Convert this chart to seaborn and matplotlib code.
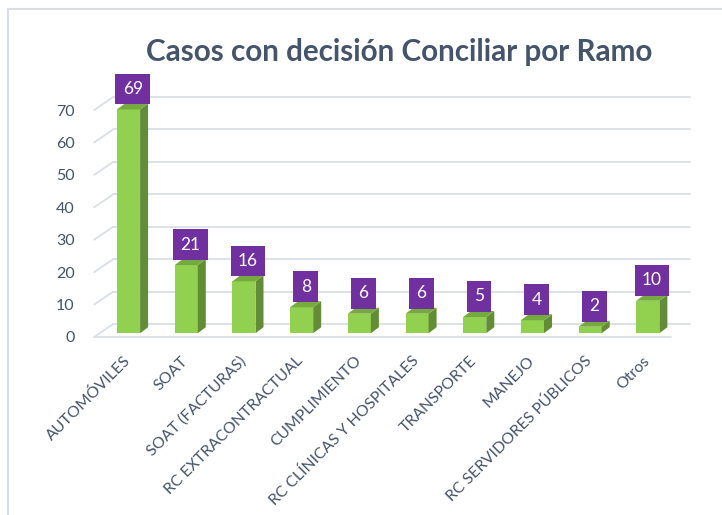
# Casos con decisión Conciliar por Ramo - 3D-like bar chart

import pandas as pd
import matplotlib.pyplot as plt
import seaborn as sns
from matplotlib.patches import Polygon, Rectangle
from matplotlib.transforms import offset_copy

# Data

ramos = ['AUTOMÓVILES', 'SOAT', 'SOAT (FACTURAS)', 'RC EXTRACONTRACTUAL',
         'CUMPLIMIENTO', 'RC CLÍNICAS Y HOSPITALES', 'TRANSPORTE', 'MANEJO',
         'RC SERVIDORES PÚBLICOS', 'Otros']
casos = [69, 21, 16, 8, 6, 6, 5, 4, 2, 10]
y_ticks = [0, 10, 20, 30, 40, 50, 60, 70]

df = pd.DataFrame({'Ramo': ramos, 'Casos': casos})

# Style

sns.set_style('white')
plt.rcParams['font.family'] = ['Lato', 'DejaVu Sans']

text_color = '#44546A'
grid_color = '#DADFE6'
front_color = '#92D050'
side_color = '#628C35'
top_color = '#74AA3E'
label_color = '#7030A0'

fig = plt.figure(figsize=(7.22, 5.15), dpi=100)
ax = fig.add_axes([94.2 / 722, 1 - 337 / 515, 577 / 722, 259.4 / 515])

# depth of the 3D look, in pixels
back_dx, back_dy = 19, 13      # front plane -> back wall
bar_dx, bar_dy = 5.5, 3.8      # front plane -> front of bar
side_dx, side_dy = 8, 6        # bar depth

ax.set_xlim(-0.5, len(ramos) - 0.5)
ax.set_ylim(0, 80)
fig.canvas.draw()

# pixels per data unit
px_x = 577 / len(ramos)
px_y = 259.4 / 80

back = offset_copy(ax.transData, fig=fig, x=back_dx, y=back_dy, units='dots')
bar_tr = offset_copy(ax.transData, fig=fig, x=bar_dx, y=bar_dy, units='dots')

# Grid: back wall lines, left slanted connectors and front floor line
for t in y_ticks:
    ax.plot([-0.5, len(ramos) - 0.5], [t, t], color=grid_color, lw=1.3,
            transform=back, clip_on=False, zorder=0)
    ax.plot([-0.5, -0.5 + back_dx / px_x], [t, t + back_dy / px_y],
            color=grid_color, lw=1.3, clip_on=False, zorder=0)
ax.plot([-0.5, len(ramos) - 0.5], [0, 0], color=grid_color, lw=1.3,
        clip_on=False, zorder=0)

# Bars

sns.barplot(x='Ramo', y='Casos', data=df, color=front_color, width=0.4,
            saturation=1, ax=ax, zorder=3)

dx = side_dx / px_x
dy = side_dy / px_y
for patch, v in zip(ax.patches, casos):
    patch.set_transform(bar_tr)
    patch.set_clip_on(False)
    patch.set_edgecolor('none')
    x0 = patch.get_x()
    x1 = x0 + patch.get_width()
    h = patch.get_height()
    side = Polygon([(x1, 0), (x1 + dx, dy), (x1 + dx, h + dy), (x1, h)],
                   closed=True, facecolor=side_color, edgecolor='none',
                   transform=bar_tr, clip_on=False, zorder=3)
    top = Polygon([(x0, h), (x0 + dx, h + dy), (x1 + dx, h + dy), (x1, h)],
                  closed=True, facecolor=top_color, edgecolor='none',
                  transform=bar_tr, clip_on=False, zorder=3)
    ax.add_patch(side)
    ax.add_patch(top)

# Value labels in purple boxes
for i, v in enumerate(casos):
    ax.annotate(str(v), xy=(i, v), xytext=(bar_dx * 0.72 + 3, 17.5),
                textcoords='offset points', ha='center', va='center',
                fontsize=12.5, color='white', zorder=5,
                bbox=dict(boxstyle='square,pad=0.42', fc=label_color, ec='none'))

# Axes cosmetics

ax.set_yticks(y_ticks)
ax.set_yticklabels([str(t) for t in y_ticks])
ax.set_xticks(range(len(ramos)))
ax.set_xticklabels(ramos, rotation=45, ha='right', va='top', rotation_mode='anchor')
ax.tick_params(axis='y', length=0, pad=14, labelsize=11.5, labelcolor=text_color)
ax.tick_params(axis='x', length=0, pad=12, labelsize=11.3, labelcolor=text_color)
ax.set_xlabel('')
ax.set_ylabel('')
sns.despine(ax=ax, left=True, bottom=True)

fig.text(399 / 722, 1 - 52 / 515, 'Casos con decisión Conciliar por Ramo',
         ha='center', va='center', fontsize=21.3, fontweight='bold', color=text_color)

# Outer frame of the chart
fig.add_artist(Rectangle((8 / 722, -0.1), 1.2, 1.1 - 9 / 515, transform=fig.transFigure,
                         fill=False, edgecolor='#D9DDE4', lw=1.5))

plt.savefig('out.png', dpi=100)
